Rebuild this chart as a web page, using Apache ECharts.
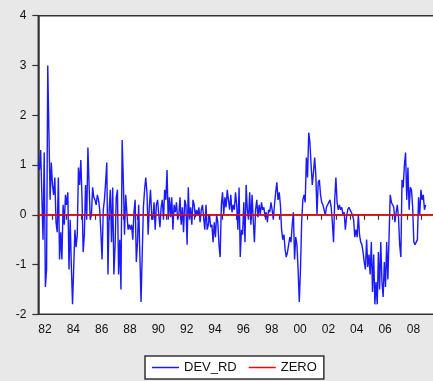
<!DOCTYPE html>
<html>
<head>
<meta charset="utf-8">
<script src="https://cdn.jsdelivr.net/npm/echarts@6/dist/echarts.min.js"></script>
<style>
  html, body { margin: 0; padding: 0; overflow: hidden; background: #e8e8e8; }
  #chart { width: 440px; height: 381px; }
</style>
</head>
<body>
<div id="chart"></div>
<script>
// monthly observations starting 1982:01
const startYear = 1982
const devRd = [
  1.05, 0.9, 1.3, 0.4, -0.5, 1.25, -1.45, -1.1, 3.0, 1.65, 0.3, 1.05, // 82
  0.6, 0.4, 0.75, -0.15, -0.35, 0.75, -0.9, -0.35, -0.9, 0.2, -0.2, 0.4, // 83
  0.2, 0.45, -1.1, -0.1, -1.05, -1.8, -1.05, -0.3, -0.65, -0.4, 0.95, 0.6, // 84
  1.1, 0.35, -0.75, -0.4, 0.6, -0.1, 1.35, 0.6, -0.1, 0.0, 0.55, 0.35, // 85
  0.3, 0.2, 0.4, 0.3, 0.1, -0.35, -0.9, 0.1, 0.3, 0.65, 1.05, -1.2, // 86
  0.1, 0.5, -0.55, 0.55, -1.2, -0.65, 0.35, 0.5, -1.2, -0.5, -1.5, 1.5, // 87
  0.7, -0.4, 0.4, 0.05, -0.3, -0.2, -0.3, -0.2, -0.5, 0.05, 0.3, -0.95, // 88
  -0.55, 0.2, -0.8, -1.75, -0.8, 0.15, 0.5, 0.75, 0.45, -0.4, 0.15, 0.5, // 89
  0.0, -0.1, 0.25, -0.3, 0.2, 0.3, 0.0, -0.25, 0.15, 0.3, -0.1, 0.5, // 90
  0.3, 0.9, -0.1, 0.35, -0.05, 0.35, -0.3, 0.2, 0.05, 0.25, -0.1, 0.0, // 91
  0.35, -0.2, 0.15, -0.35, 0.3, 0.2, -0.6, 0.55, -0.1, 0.15, -0.2, 0.3, // 92
  0.2, -0.05, 0.1, 0.0, 0.15, -0.15, 0.1, 0.2, -0.05, -0.3, 0.2, -0.3, // 93
  -0.2, 0.0, -0.25, -0.2, -0.55, -0.15, -0.45, 0.0, -0.15, -0.6, -0.85, 0.2, // 94
  0.45, 0.0, 0.35, 0.15, 0.5, 0.3, 0.1, 0.4, 0.05, 0.2, 0.1, 0.45, // 95
  0.2, -0.3, 0.55, -0.85, -0.3, -0.4, 0.25, -0.55, 0.6, 0.1, -0.1, 0.45, // 96
  -0.2, 0.4, -0.1, -0.55, 0.1, 0.3, -0.05, 0.2, 0.0, 0.25, 0.1, 0.15, // 97
  -0.05, 0.05, -0.15, 0.1, 0.05, 0.25, 0.1, -0.1, 0.2, 0.45, 0.65, 0.3, // 98
  0.45, 0.2, -0.3, -0.5, -0.4, -0.7, -0.85, -0.75, -0.6, -0.45, -0.55, -0.2, // 99
  0.05, -0.9, -0.45, -0.6, -1.1, -1.75, -1.1, -0.15, 0.3, 0.4, 0.25, 1.15, // 00
  0.75, 1.65, 1.45, 1.0, 0.6, 0.85, 1.15, 0.8, 0.0, 0.65, 0.7, 0.4, // 01
  0.25, 0.2, 0.2, 0.0, 0.15, 0.2, 0.25, 0.3, 0.15, -0.15, -0.55, 0.3, // 02
  0.75, 0.25, 0.1, 0.2, 0.1, 0.15, 0.0, 0.05, -0.3, -0.05, 0.1, 0.15, // 03
  0.1, 0.05, 0.0, -0.1, -0.45, -0.3, -0.45, 0.0, -0.4, -0.55, -0.6, -0.75, // 04
  -0.95, -1.1, -0.5, -1.05, -0.8, -1.2, -0.55, -1.55, -0.8, -1.8, -1.35, -1.8, // 05
  -0.75, -1.5, -0.55, -1.35, -1.65, -0.95, -1.45, -0.55, -1.3, -0.45, 0.4, 0.25, // 06
  0.2, 0.15, -0.15, 0.05, 0.2, -0.05, -0.6, -0.85, 0.7, 0.55, 1.0, 1.25, // 07
  0.3, 0.95, 0.1, 0.55, 0.5, 0.15, -0.55, -0.6, -0.55, -0.5, 0.35, 0.0, // 08
  0.5, 0.3, 0.4, 0.1, 0.2 // 09
]
const zeroLevel = 0
const xRange = [1982, 2010]
const yTicks = [-2, -1, 0, 1, 2, 3, 4]

const chart = echarts.init(document.getElementById('chart'))

const option = {
  animation: false,
  backgroundColor: '#e8e8e8',
  textStyle: { fontFamily: 'Liberation Sans, Arial, sans-serif' },
  grid: {
    left: 38.3,
    right: 4.9,
    top: 15.7,
    bottom: 66.7,
    show: true,
    backgroundColor: '#ffffff',
    borderColor: '#333',
    borderWidth: 1.5
  },
  legend: {
    left: 145,
    top: 356,
    padding: [5, 7],
    itemGap: 12,
    itemWidth: 27,
    itemHeight: 1.5,
    icon: 'rect',
    backgroundColor: '#ffffff',
    borderColor: '#333',
    borderWidth: 1.5,
    textStyle: { fontSize: 13, color: '#111', fontFamily: 'Liberation Sans, Arial, sans-serif' },
    data: ['DEV_RD', 'ZERO']
  },
  xAxis: {
    type: 'value',
    min: xRange[0],
    max: xRange[1],
    interval: 1,
    splitLine: { show: false },
    axisLine: { lineStyle: { color: '#333', width: 1.5 } },
    axisTick: { length: 5, lineStyle: { color: '#333', width: 1.2 } },
    axisLabel: {
      margin: 9,
      align: 'left',
      fontSize: 12,
      color: '#111',
      showMaxLabel: false,
      formatter: function (v) {
        if (v % 2 !== 0) return ''
        const s = String(v % 100)
        return s.length < 2 ? '0' + s : s
      }
    }
  },
  yAxis: {
    type: 'value',
    min: yTicks[0],
    max: yTicks[yTicks.length - 1],
    interval: 1,
    splitLine: { show: false },
    axisLine: { show: true, lineStyle: { color: '#333', width: 1.5 } },
    axisTick: { show: true, length: 6, lineStyle: { color: '#333', width: 1.2 } },
    axisLabel: { margin: 12, fontSize: 12, color: '#111' }
  },
  series: [
    {
      name: 'DEV_RD',
      type: 'line',
      symbol: 'none',
      data: devRd.map((v, i) => [startYear + i / 12, v]),
      lineStyle: { color: '#1a1aff', width: 1.4 },
      itemStyle: { color: '#1a1aff' }
    },
    {
      name: 'ZERO',
      type: 'line',
      symbol: 'none',
      data: [[xRange[0], zeroLevel], [xRange[1], zeroLevel]],
      lineStyle: { color: '#ff0000', width: 1.5 },
      itemStyle: { color: '#ff0000' }
    }
  ]
}

chart.setOption(option)
</script>
</body>
</html>
